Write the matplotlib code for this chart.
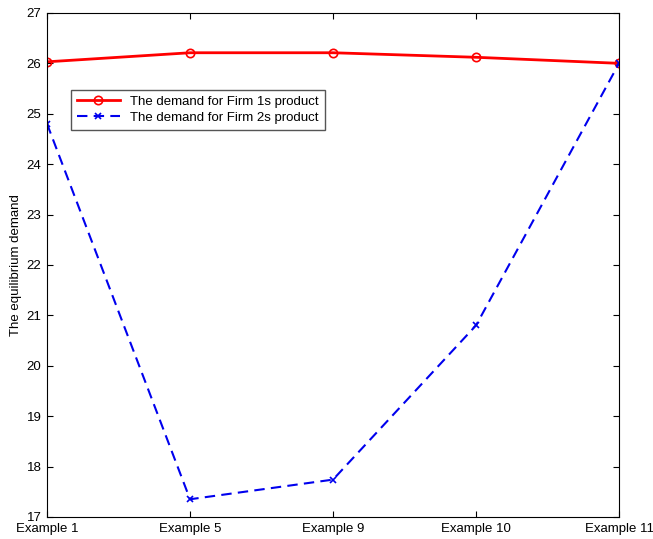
import numpy as np
from matplotlib import pyplot as plt

plt.rcParams['font.family'] = ['Liberation Sans', 'DejaVu Sans']

examples = ['Example 1', 'Example 5', 'Example 9', 'Example 10', 'Example 11']
firm1 = [26.03, 26.21, 26.21, 26.12, 26.0]
firm2 = [24.8, 17.35, 17.74, 20.8, 26.0]

x = np.arange(len(examples))

fig = plt.figure(figsize=(6.53, 5.39), dpi=100)
ax = fig.add_axes([0.072, 0.041, 0.876, 0.935])

ax.plot(x, firm1, color='red', linewidth=2, marker='o', markersize=6,
        markerfacecolor='none', markeredgewidth=1.2,
        label='The demand for Firm 1s product')
ax.plot(x, firm2, color='#0000ee', linewidth=1.5, linestyle=(0, (5, 3)),
        marker='x', markersize=5, markeredgewidth=1.2,
        label='The demand for Firm 2s product')

ax.set_xlim(0, 4)
ax.set_ylim(17, 27)
ax.set_xticks(x, examples)
ax.set_yticks(np.arange(17, 28, 1))
ax.tick_params(direction='in', top=True, right=True, labelsize=9.5, length=4)
ax.tick_params(axis='x', pad=4.5)
ax.tick_params(axis='y', pad=4)
ax.set_ylabel('The equilibrium demand', fontsize=9.5, labelpad=3)

leg = ax.legend(loc='upper left', bbox_to_anchor=(0.031, 0.861), fontsize=9.5,
                fancybox=False, edgecolor='#555555', framealpha=1,
                handlelength=3.2, borderpad=0.45, labelspacing=0.3)
leg.get_frame().set_linewidth(1.0)

plt.savefig('out.png', dpi=100)
